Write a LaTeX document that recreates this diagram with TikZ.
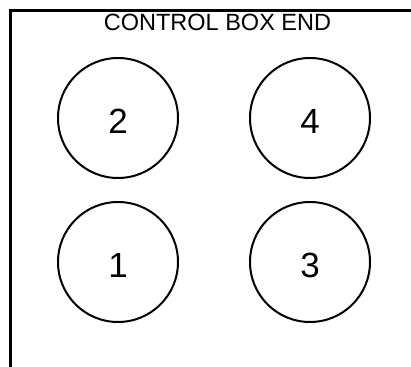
\documentclass[tikz,border=0pt]{standalone}
\usepackage{fontspec}
\setmainfont{Liberation Sans}
\begin{document}
\begin{tikzpicture}[x=1pt,y=-1pt,
  knob/.style={draw=black,line width=2pt,circle,minimum size=120pt,inner sep=0pt,
    font=\fontsize{35}{35}\selectfont,text height=30pt,text depth=0pt},
  frame/.style={draw=black,line width=3pt,line join=miter},
  title/.style={font=\fontsize{23.5}{24}\selectfont,inner sep=0pt}]
\useasboundingbox (0,0) rectangle (411,366);
\coordinate (bl) at (10.5,368);
\coordinate (tl) at (10.5,10.5);
\coordinate (tr) at (413,10.5);
\draw[frame] (bl) -- (tl) -- (tr);
\node[title] (ttl) at (217.5,22.5) {CONTROL BOX END};
\node[knob] (k2) at (118,118) {2};
\node[knob] (k4) at (310,118) {4};
\node[knob] (k1) at (118,262) {1};
\node[knob] (k3) at (310,262) {3};
\end{tikzpicture}
\end{document}
